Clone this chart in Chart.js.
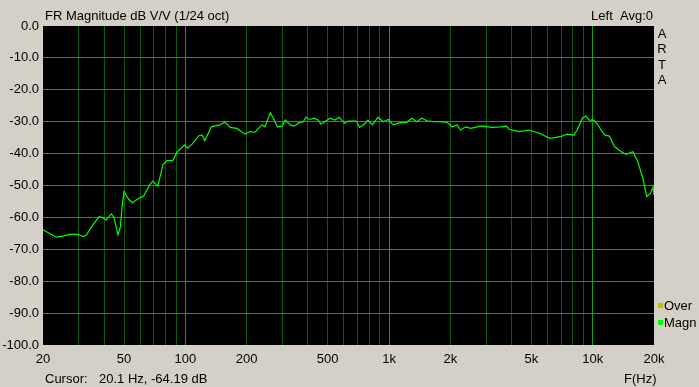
<!DOCTYPE html>
<html>
<head>
<meta charset="utf-8">
<script src="https://cdn.jsdelivr.net/npm/chart.js@4"></script>
<style>
  html, body { margin: 0; padding: 0; background: #d4d0c8; }
  #wrap { width: 699px; height: 387px; position: relative; }
</style>
</head>
<body>
<div id="wrap"><canvas id="frChart"></canvas></div>
<script>
  // ── Data ──
  var freqs = [20, 23.2, 25.4, 27.0, 29.7, 31.5, 32.6, 35.1, 37.7, 39.0, 40.8, 43.3, 44.6, 46.7, 48.0, 48.9,
    50.0, 52.3, 54.9, 59.0, 62.4, 66.7, 69.2, 73.3, 77.6, 81.2, 86.8, 91.4, 99.1, 102.8, 108.8, 116.4,
    121, 124.6, 134, 148, 156.5, 165.9, 178.6, 196.5, 208, 220, 237, 246, 261, 270.6, 283, 298,
    309.5, 327, 342, 362, 379, 391, 409, 428, 450, 462, 485, 512, 542, 569, 606, 629, 691, 717,
    759, 788, 828, 883, 936, 991, 1049, 1131, 1220, 1292, 1369, 1449, 1534, 1654, 1785, 1926, 2040,
    2161, 2245, 2380, 2522, 2834, 3184, 3577, 3791, 3865, 4342, 4880, 5483, 6160, 6920, 7475, 8075,
    8390, 8895, 9247, 9608, 10090, 10490, 10990, 11500, 12080, 12790, 13790, 14600, 15730, 16650,
    17620, 18440, 19240, 19800, 20000];
  var magn = [-63.9, -66.2, -65.8, -65.3, -65.3, -66.0, -65.6, -62.4, -59.8, -60.0, -60.8, -58.9, -60.0, -65.5, -62.9, -56.6,
    -51.9, -54.0, -55.4, -54.0, -53.3, -49.8, -48.6, -50.2, -43.4, -42.2, -42.2, -39.4, -37.3, -38.3, -36.8, -34.4,
    -34.2, -36.0, -31.6, -31.0, -30.1, -31.8, -32.1, -33.9, -33.1, -33.3, -31.0, -31.6, -27.2, -28.9, -31.6, -31.4,
    -29.5, -31.0, -31.4, -30.3, -30.0, -28.6, -29.3, -28.9, -29.5, -30.7, -30.0, -28.9, -29.5, -28.6, -30.5, -29.8, -29.8, -31.8,
    -30.7, -29.5, -31.0, -28.6, -30.0, -29.3, -31.0, -30.3, -30.2, -28.9, -30.0, -28.9, -29.7, -30.0, -30.0, -30.2, -31.6,
    -31.0, -32.6, -31.6, -32.1, -31.3, -31.8, -31.6, -31.4, -32.3, -33.1, -32.6, -33.6, -35.2, -34.7, -33.9, -34.2,
    -32.6, -28.9, -28.2, -29.5, -29.5, -30.5, -32.6, -34.2, -34.5, -37.8, -39.4, -40.2, -39.4, -42.5,
    -47.7, -53.5, -52.4, -50.4, -53.0];

  var xTicks = [20, 30, 40, 50, 60, 70, 80, 90, 100, 200, 300, 400, 500, 600, 700, 800, 900,
    1000, 2000, 3000, 4000, 5000, 6000, 7000, 8000, 9000, 10000, 20000];
  var xLabels = { 20: '20', 50: '50', 100: '100', 200: '200', 500: '500', 1000: '1k',
    2000: '2k', 5000: '5k', 10000: '10k', 20000: '20k' };
  var majorX = [100, 1000, 10000];

  var FONT = 'Liberation Sans, Arial, sans-serif';
  var TEXT = '#000000';

  // Black plot area + static panel texts
  var panel = {
    id: 'panel',
    beforeDraw: function(chart) {
      var c = chart.ctx, a = chart.chartArea;
      c.save();
      c.fillStyle = '#000000';
      c.fillRect(a.left, a.top, a.right - a.left, a.bottom - a.top);
      c.restore();
    },
    afterDraw: function(chart) {
      var c = chart.ctx;
      c.save();
      c.font = '13px ' + FONT;
      c.fillStyle = TEXT;
      c.textBaseline = 'middle';
      c.textAlign = 'left';
      c.fillText('FR Magnitude dB V/V (1/24 oct)', 45, 16);
      c.fillText('Cursor:', 45, 379);
      c.fillText('20.1 Hz, -64.19 dB', 99, 379);
      c.fillText('F(Hz)', 624, 379);
      c.textAlign = 'right';
      c.fillText('Left  Avg:0', 653, 16);
      c.textAlign = 'center';
      ['A', 'R', 'T', 'A'].forEach(function(ch, i) { c.fillText(ch, 662, 34 + i * 15.5); });
      // legend
      c.textAlign = 'left';
      c.fillStyle = '#c0c000';
      c.fillRect(658, 303, 5, 5);
      c.fillStyle = '#00ff00';
      c.fillRect(658, 320, 5, 5);
      c.fillStyle = TEXT;
      c.fillText('Over', 664, 306);
      c.fillText('Magn', 664, 323);
      c.restore();
    }
  };

  var ctx = document.getElementById('frChart').getContext('2d');
  var chart = new Chart(ctx, {
    type: 'line',
    data: {
      datasets: [{
        label: 'Magn',
        data: freqs.map(function(f, i) { return { x: f, y: magn[i] }; }),
        borderColor: '#00ff00',
        borderWidth: 1.2,
        pointRadius: 0,
        tension: 0,
        fill: false
      }]
    },
    options: {
      responsive: true,
      maintainAspectRatio: false,
      animation: false,
      layout: { padding: { top: 26, right: 45, left: 0, bottom: 0 } },
      plugins: {
        legend: { display: false },
        tooltip: { enabled: false }
      },
      scales: {
        x: {
          type: 'logarithmic',
          min: 20,
          max: 20000,
          afterBuildTicks: function(s) { s.ticks = xTicks.map(function(v) { return { value: v }; }); },
          afterFit: function(s) { s.height = 42; },
          ticks: {
            autoSkip: false,
            maxRotation: 0,
            padding: 7,
            color: TEXT,
            font: { family: FONT, size: 13 },
            callback: function(v) { return xLabels[v] || ''; }
          },
          grid: {
            drawTicks: false,
            lineWidth: 1,
            color: function(c) {
              var v = c.tick && c.tick.value;
              if (v === 20 || v === 20000) return 'rgba(0,0,0,0)';
              return majorX.indexOf(v) >= 0 ? '#12a012' : '#0a5e0a';
            }
          },
          border: { display: false }
        },
        y: {
          min: -100,
          max: 0,
          afterFit: function(s) { s.width = 43; },
          ticks: {
            stepSize: 10,
            padding: 4,
            color: TEXT,
            font: { family: FONT, size: 13 },
            callback: function(v) { return Number(v).toFixed(1); }
          },
          grid: {
            drawTicks: false,
            lineWidth: 1,
            color: function(c) {
              var v = c.tick && c.tick.value;
              if (v === 0 || v === -100) return 'rgba(0,0,0,0)';
              return '#12a012';
            }
          },
          border: { display: false }
        }
      }
    },
    plugins: [panel]
  });
</script>
</body>
</html>
